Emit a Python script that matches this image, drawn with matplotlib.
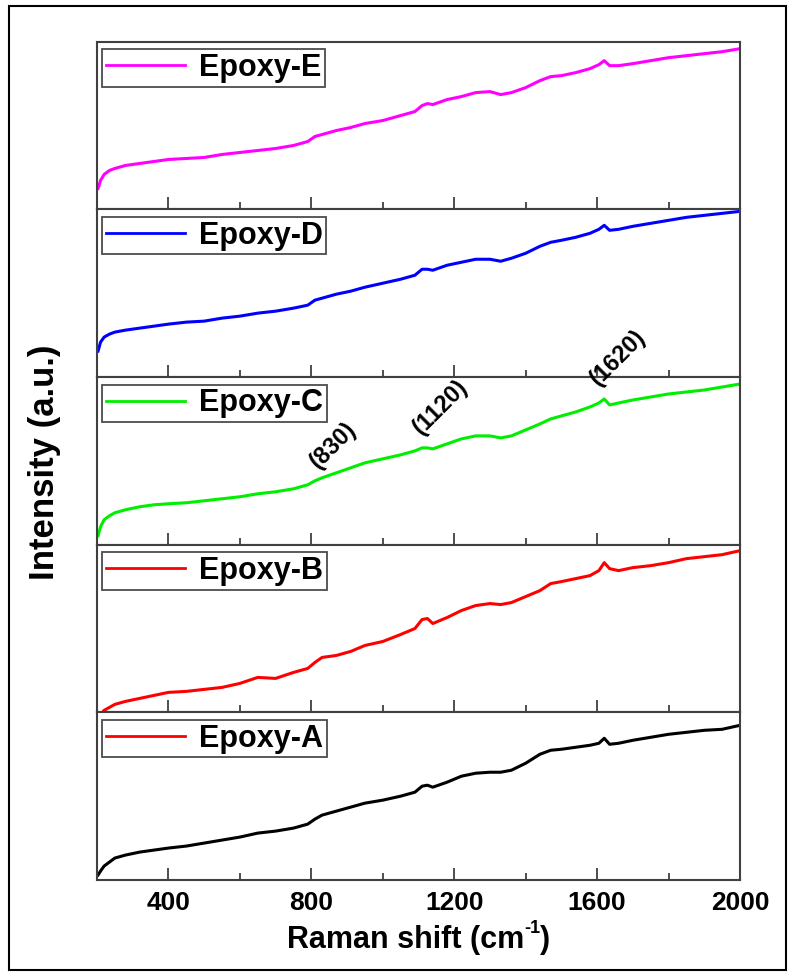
import matplotlib
matplotlib.use("Agg")
import matplotlib.pyplot as plt
from matplotlib.lines import Line2D
from matplotlib.patches import Rectangle
from matplotlib.ticker import MultipleLocator

plt.rcParams['font.family'] = ['Liberation Sans', 'DejaVu Sans']
plt.rcParams['font.weight'] = 'bold'

# ── Data (arbitrary units per panel) ─────────────────────────────────────────
wavenumber = [203, 210, 220, 235, 250, 280, 320, 360, 400, 450, 500, 550, 600,
              650, 700, 750, 790, 810, 830, 870, 910, 950, 1000, 1050, 1090,
              1110, 1125, 1140, 1180, 1220, 1260, 1300, 1330, 1360, 1400, 1440,
              1470, 1500, 1540, 1580, 1605, 1620, 1635, 1660, 1700, 1750, 1800,
              1850, 1900, 1950, 2000]

epoxy_a = [5, 9, 14, 18, 22, 25, 28, 30, 32, 34, 37, 40, 43, 47, 49, 52, 56, 61,
           65, 69, 73, 77, 80, 84, 88, 94, 95, 93, 98, 104, 107, 108, 108, 110,
           117, 126, 130, 131, 133, 135, 137, 142, 136, 137, 140, 143, 146, 148,
           150, 151, 155]
epoxy_b = [-8, -2, 2, 5, 8, 11, 14, 17, 20, 21, 23, 25, 29, 35, 34, 40, 44, 50,
           55, 57, 61, 67, 71, 78, 84, 93, 94, 89, 95, 102, 107, 109, 108, 110,
           116, 122, 129, 131, 134, 137, 142, 150, 144, 142, 145, 147, 150, 154,
           156, 158, 162]
epoxy_c = [9, 18, 25, 29, 32, 35, 38, 40, 41, 42, 44, 46, 48, 51, 53, 56, 60, 64,
           67, 72, 77, 82, 86, 90, 94, 97, 97, 96, 101, 106, 109, 109, 107, 109,
           115, 121, 126, 129, 133, 138, 142, 146, 140, 142, 145, 148, 151, 153,
           155, 158, 161]
epoxy_d = [26, 35, 40, 43, 45, 47, 49, 51, 53, 55, 56, 59, 61, 64, 66, 69, 72, 77,
           79, 83, 86, 90, 94, 98, 102, 108, 108, 107, 112, 115, 118, 118, 116,
           119, 124, 131, 135, 137, 140, 144, 148, 152, 147, 148, 151, 154, 157,
           160, 162, 164, 166]
epoxy_e = [21, 29, 35, 39, 41, 44, 46, 48, 50, 51, 52, 55, 57, 59, 61, 64, 68, 73,
           75, 79, 82, 86, 89, 94, 98, 104, 106, 105, 110, 113, 117, 118, 115,
           117, 122, 129, 133, 134, 137, 141, 145, 149, 144, 144, 146, 149, 152,
           154, 156, 158, 161]

# top panel first
series = [epoxy_e, epoxy_d, epoxy_c, epoxy_b, epoxy_a]
labels = ['Epoxy-E', 'Epoxy-D', 'Epoxy-C', 'Epoxy-B', 'Epoxy-A']
colors = ['#ff00ff', '#0000ff', '#00ee00', '#ff0000', '#000000']
legend_colors = ['#ff00ff', '#0000ff', '#00ee00', '#ff0000', '#ff0000']

peak_labels = ['(830)', '(1120)', '(1620)']

# ── Figure ───────────────────────────────────────────────────────────────────
W, H = 788, 972
fig = plt.figure(figsize=(W / 100, H / 100), dpi=100)

left, right = 97, 740
top, bottom = 41.7, 880
ph = (bottom - top) / 5
spine_col = '#404040'

axes = []
for i, (y, lab, c, lc) in enumerate(zip(series, labels, colors, legend_colors)):
    y0 = top + i * ph
    ax = fig.add_axes([left / W, 1 - (y0 + ph) / H, (right - left) / W, ph / H])
    ax.plot(wavenumber, y, color=c, lw=2.2)
    ax.set_xlim(200, 2000)
    ax.set_ylim(0, 168)
    ax.set_yticks([])
    ax.xaxis.set_major_locator(MultipleLocator(400))
    ax.xaxis.set_minor_locator(MultipleLocator(200))
    ax.tick_params(axis='x', which='major', direction='in', length=9, width=1.3,
                   color=spine_col, labelsize=19, pad=8, top=False)
    ax.tick_params(axis='x', which='minor', direction='in', length=5, width=1.3,
                   color=spine_col, top=False)
    if i < 4:
        ax.tick_params(axis='x', which='both', labelbottom=False)
    for s in ax.spines.values():
        s.set_color(spine_col)
        s.set_linewidth(1.5)
    leg = ax.legend(handles=[Line2D([], [], color=lc, lw=2)], labels=[lab],
                    loc='upper left', bbox_to_anchor=(-0.004, 1.0),
                    frameon=True, fancybox=False, edgecolor='#202020',
                    handlelength=2.6, handletextpad=0.45, borderpad=0.12,
                    borderaxespad=0.25, prop={'size': 22, 'weight': 'bold'})
    leg.get_frame().set_linewidth(1.3)
    axes.append(ax)

axes[-1].set_xticks([400, 800, 1200, 1600, 2000])
for t in axes[-1].get_xticklabels():
    t.set_fontweight('bold')

# x label with a small "-1" superscript, laid out piece by piece
renderer = fig.canvas.get_renderer()
xl_y = 1 - 940 / H
parts = [('Raman shift (cm', 22, 0.0), ('-1', 13, 0.012), (')', 22, 0.0)]
texts = [fig.text(0, xl_y + dy, s, ha='left', va='center', fontsize=fs,
                  fontweight='bold') for s, fs, dy in parts]
widths = [t.get_window_extent(renderer).width / W for t in texts]
x0 = (left + right) / 2 / W - sum(widths) / 2
for t, w in zip(texts, widths):
    t.set_x(x0)
    x0 += w

fig.text(45 / W, 1 - 462 / H, 'Intensity (a.u.)', rotation=90,
         ha='center', va='center', fontsize=25, fontweight='bold')

# peak annotations
for lab, (px, py) in zip(peak_labels, [(333, 445), (440, 407), (618, 358)]):
    fig.text(px / W, 1 - py / H, lab, rotation=45, ha='center', va='center',
             fontsize=17, fontweight='bold')

# outer frame
fig.patches.append(Rectangle((9 / W, 1 - 970 / H), (786 - 9) / W, (970 - 6) / H,
                             transform=fig.transFigure, fill=False,
                             edgecolor='black', lw=1.5))

fig.savefig('out.png', dpi=100)
